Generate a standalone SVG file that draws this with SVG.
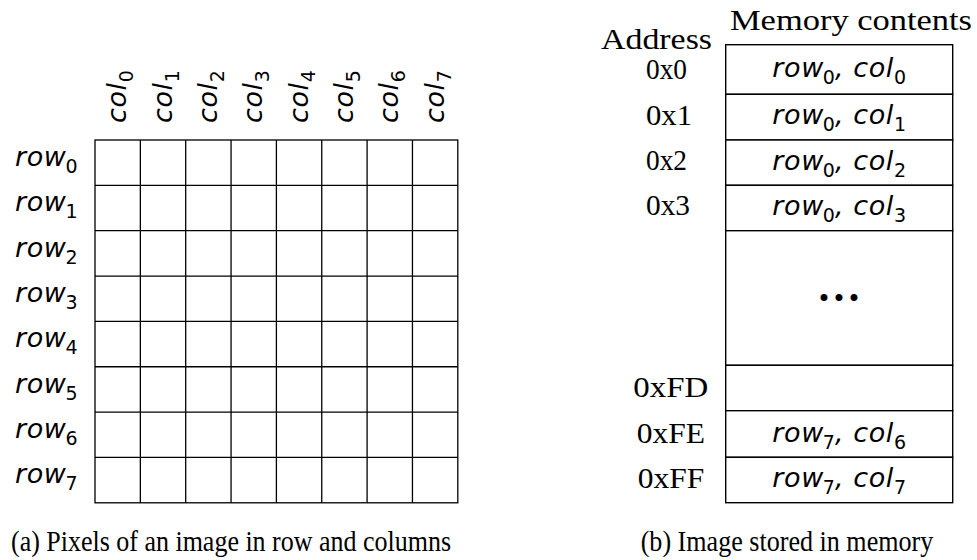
<svg xmlns="http://www.w3.org/2000/svg" width="977" height="560" viewBox="0 0 977 560">
  <style>
    .ln { stroke: #000; stroke-width: 1.3; fill: none; }
    .cell { fill: #fff; stroke: #000; stroke-width: 1.4; }
    .math { font-family: "DejaVu Sans", "Liberation Sans", sans-serif; font-style: italic; font-size: 27px; letter-spacing: 0.6px; fill: #000; }
    .sub { font-size: 19px; font-style: normal; letter-spacing: 0; }
    .rm { font-family: "Liberation Serif", "Times New Roman", serif; font-size: 30px; fill: #000; }
  </style>

  <!-- (a) 8x8 pixel grid -->
  <g id="pixel-grid">
    <rect class="ln" x="95" y="140" width="362.8" height="362.8"/>
    <path class="ln" d="M140.35 140V502.8M185.7 140V502.8M231.05 140V502.8M276.4 140V502.8M321.75 140V502.8M367.1 140V502.8M412.45 140V502.8
                        M95 185.35H457.8M95 230.7H457.8M95 276.05H457.8M95 321.4H457.8M95 366.75H457.8M95 412.1H457.8M95 457.45H457.8"/>
  </g>

  <!-- row labels -->
  <g id="row-labels" class="math">
    <text x="15" y="166">row<tspan class="sub" dx="-1" dy="7">0</tspan></text>
    <text x="15" y="211.35">row<tspan class="sub" dx="-1" dy="7">1</tspan></text>
    <text x="15" y="256.7">row<tspan class="sub" dx="-1" dy="7">2</tspan></text>
    <text x="15" y="302.05">row<tspan class="sub" dx="-1" dy="7">3</tspan></text>
    <text x="15" y="347.4">row<tspan class="sub" dx="-1" dy="7">4</tspan></text>
    <text x="15" y="392.75">row<tspan class="sub" dx="-1" dy="7">5</tspan></text>
    <text x="15" y="438.1">row<tspan class="sub" dx="-1" dy="7">6</tspan></text>
    <text x="15" y="483.45">row<tspan class="sub" dx="-1" dy="7">7</tspan></text>
  </g>

  <!-- column labels, rotated -->
  <g id="col-labels" class="math">
    <text transform="translate(126.2 123) rotate(-90)">col<tspan class="sub" dy="7">0</tspan></text>
    <text transform="translate(171.55 123) rotate(-90)">col<tspan class="sub" dy="7">1</tspan></text>
    <text transform="translate(216.9 123) rotate(-90)">col<tspan class="sub" dy="7">2</tspan></text>
    <text transform="translate(262.25 123) rotate(-90)">col<tspan class="sub" dy="7">3</tspan></text>
    <text transform="translate(307.6 123) rotate(-90)">col<tspan class="sub" dy="7">4</tspan></text>
    <text transform="translate(352.95 123) rotate(-90)">col<tspan class="sub" dy="7">5</tspan></text>
    <text transform="translate(398.3 123) rotate(-90)">col<tspan class="sub" dy="7">6</tspan></text>
    <text transform="translate(443.65 123) rotate(-90)">col<tspan class="sub" dy="7">7</tspan></text>
  </g>

  <g id="caption-a">
    <text class="rm" x="11" y="551" textLength="440" lengthAdjust="spacingAndGlyphs">(a) Pixels of an image in row and columns</text>
  </g>

  <!-- (b) memory layout -->
  <g id="headers">
    <text class="rm" x="730" y="30" textLength="242" lengthAdjust="spacingAndGlyphs">Memory contents</text>
    <text class="rm" x="601" y="49" textLength="111" lengthAdjust="spacingAndGlyphs">Address</text>
  </g>

  <g id="mem-0x0">
    <rect class="cell" x="725.7" y="44.7" width="227" height="49.6"/>
    <text class="rm" x="646" y="79" textLength="41" lengthAdjust="spacingAndGlyphs">0x0</text>
    <text class="math" x="839.2" y="76.5" text-anchor="middle">row<tspan class="sub" dx="-1" dy="7">0</tspan><tspan dy="-7">, col</tspan><tspan class="sub" dy="7">0</tspan></text>
  </g>
  <g id="mem-0x1">
    <rect class="cell" x="725.7" y="94.3" width="227" height="45.7"/>
    <text class="rm" x="646" y="124.7" textLength="46" lengthAdjust="spacingAndGlyphs">0x1</text>
    <text class="math" x="839.2" y="124.2" text-anchor="middle">row<tspan class="sub" dx="-1" dy="7">0</tspan><tspan dy="-7">, col</tspan><tspan class="sub" dy="7">1</tspan></text>
  </g>
  <g id="mem-0x2">
    <rect class="cell" x="725.7" y="140" width="227" height="45.3"/>
    <text class="rm" x="646" y="169.5" textLength="41" lengthAdjust="spacingAndGlyphs">0x2</text>
    <text class="math" x="839.2" y="169.7" text-anchor="middle">row<tspan class="sub" dx="-1" dy="7">0</tspan><tspan dy="-7">, col</tspan><tspan class="sub" dy="7">2</tspan></text>
  </g>
  <g id="mem-0x3">
    <rect class="cell" x="725.7" y="185.3" width="227" height="45.4"/>
    <text class="rm" x="646" y="215" textLength="44" lengthAdjust="spacingAndGlyphs">0x3</text>
    <text class="math" x="839.2" y="215" text-anchor="middle">row<tspan class="sub" dx="-1" dy="7">0</tspan><tspan dy="-7">, col</tspan><tspan class="sub" dy="7">3</tspan></text>
  </g>
  <g id="mem-gap">
    <rect class="cell" x="725.7" y="230.7" width="227" height="134.6"/>
    <text x="841" y="301" text-anchor="middle" font-family="Lato, sans-serif" font-weight="bold" font-size="46" letter-spacing="4" fill="#000">...</text>
  </g>
  <g id="mem-0xFD">
    <rect class="cell" x="725.7" y="365.3" width="227" height="45.4"/>
    <text class="rm" x="633.3" y="397" textLength="75" lengthAdjust="spacingAndGlyphs">0xFD</text>
  </g>
  <g id="mem-0xFE">
    <rect class="cell" x="725.7" y="410.7" width="227" height="46.6"/>
    <text class="rm" x="636.7" y="443.3" textLength="68.3" lengthAdjust="spacingAndGlyphs">0xFE</text>
    <text class="math" x="839.2" y="441.5" text-anchor="middle">row<tspan class="sub" dx="-1" dy="7">7</tspan><tspan dy="-7">, col</tspan><tspan class="sub" dy="7">6</tspan></text>
  </g>
  <g id="mem-0xFF">
    <rect class="cell" x="725.7" y="457.3" width="227" height="45.4"/>
    <text class="rm" x="637.7" y="488.3" textLength="66.6" lengthAdjust="spacingAndGlyphs">0xFF</text>
    <text class="math" x="839.2" y="487.3" text-anchor="middle">row<tspan class="sub" dx="-1" dy="7">7</tspan><tspan dy="-7">, col</tspan><tspan class="sub" dy="7">7</tspan></text>
  </g>

  <g id="caption-b">
    <text class="rm" x="640.7" y="551" textLength="292.6" lengthAdjust="spacingAndGlyphs">(b) Image stored in memory</text>
  </g>
</svg>
